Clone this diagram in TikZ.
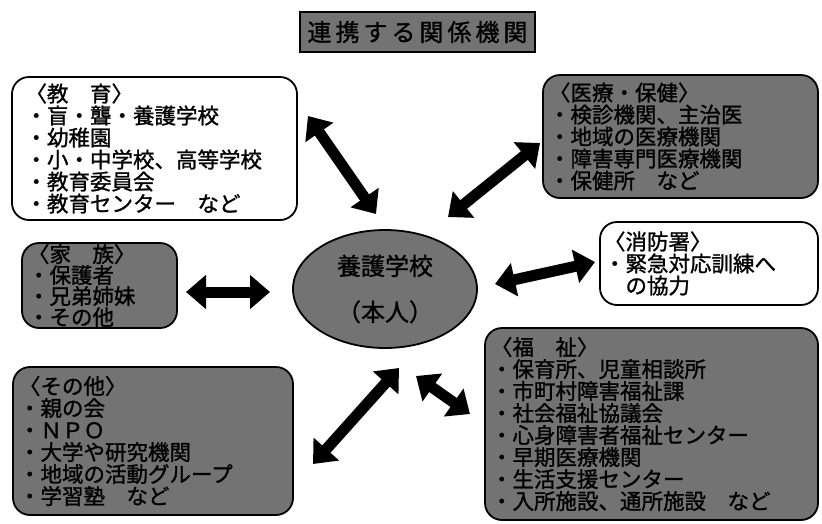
\documentclass[tikz,border=0pt]{standalone}
\usepackage{fontspec}
\setmainfont{Noto Sans CJK JP}[AutoFakeBold=1.2]
\usetikzlibrary{arrows.meta,shapes.geometric}
\tikzset{
  box/.style={draw=black, line width=1.8pt, rounded corners=17pt, align=left, inner ysep=0pt,
    font=\fontsize{21.5}{22}\selectfont\bfseries},
  whitebox/.style={box, fill=white},
  darkbox/.style={box, fill=black!55},
  dblarrow/.style={line width=11pt, {Triangle[length=20pt,width=33pt]}-{Triangle[length=20pt,width=33pt]}},
}
\begin{document}
\begin{tikzpicture}[x=1pt,y=-1pt]
\useasboundingbox (0,0) rectangle (822,523);
% title
\node[draw=black, line width=1.8pt, fill=black!55, minimum width=235pt, minimum height=40pt,
  font=\fontsize{24}{26}\selectfont\bfseries] (title) at (417.5,32) {連\,携\,す\,る\,関\,係\,機\,関};
% education
\node[whitebox, minimum width=285pt, minimum height=143pt, text width=258pt, inner xsep=13pt]
  (edu) at (154.5,148.5) {〈教　育〉\\・盲・聾・養護学校\\・幼稚園\\・小・中学校、高等学校\\・教育委員会\\・教育センター　など};
% medical
\node[darkbox, minimum width=275pt, minimum height=123pt, text width=263pt, inner xsep=6pt]
  (med) at (680.5,136.5) {〈医療・保健〉\\・検診機関、主治医\\・地域の医療機関\\・障害専門医療機関\\・保健所　など};
% family
\node[darkbox, minimum width=155pt, minimum height=85pt, text width=143pt, inner xsep=6pt,
  font=\fontsize{21.5}{21}\selectfont\bfseries]
  (fam) at (99.5,285.5) {〈家　族〉\\・保護者\\・兄弟姉妹\\・その他};
% center
\node[draw=black, line width=1.8pt, fill=black!55, ellipse, minimum width=184pt, minimum height=118pt,
  inner sep=0pt, align=center, font=\fontsize{24}{46}\selectfont\bfseries] (ctr) at (385,289) {養護学校\\（本人）};
% fire
\node[whitebox, minimum width=218pt, minimum height=83pt, text width=210pt, inner xsep=4pt]
  (fire) at (709,263.5) {〈消防署〉\\・緊急対応訓練へ\\　の協力};
% welfare
\node[darkbox, minimum width=333pt, minimum height=192pt, text width=321pt, inner xsep=6pt,
  font=\fontsize{21.5}{22}\selectfont\bfseries]
  (wel) at (651.5,424) {〈福　祉〉\\・保育所、児童相談所\\・市町村障害福祉課\\・社会福祉協議会\\・心身障害者福祉センター\\・早期医療機関\\・生活支援センター\\・入所施設、通所施設　など};
% other
\node[darkbox, minimum width=280pt, minimum height=148pt, text width=268pt, inner xsep=6pt,
  font=\fontsize{21.5}{22}\selectfont\bfseries]
  (oth) at (153,441) {〈その他〉\\・親の会\\・ＮＰＯ\\・大学や研究機関\\・地域の活動グループ\\・学習塾　など};
% arrow ends
\coordinate (a1) at (308,116); \coordinate (b1) at (376,214);
\coordinate (a2) at (448,217); \coordinate (b2) at (540,143);
\coordinate (a3) at (186,292); \coordinate (b3) at (270,292);
\coordinate (a4) at (495,284); \coordinate (b4) at (595,262);
\coordinate (a5) at (313,464); \coordinate (b5) at (399,368);
\coordinate (a6) at (416,376); \coordinate (b6) at (470,414);
\draw[dblarrow] (a1) -- (b1);
\draw[dblarrow] (a2) -- (b2);
\draw[dblarrow] (a3) -- (b3);
\draw[dblarrow] (a4) -- (b4);
\draw[dblarrow] (a5) -- (b5);
\draw[dblarrow] (a6) -- (b6);
\end{tikzpicture}
\end{document}
